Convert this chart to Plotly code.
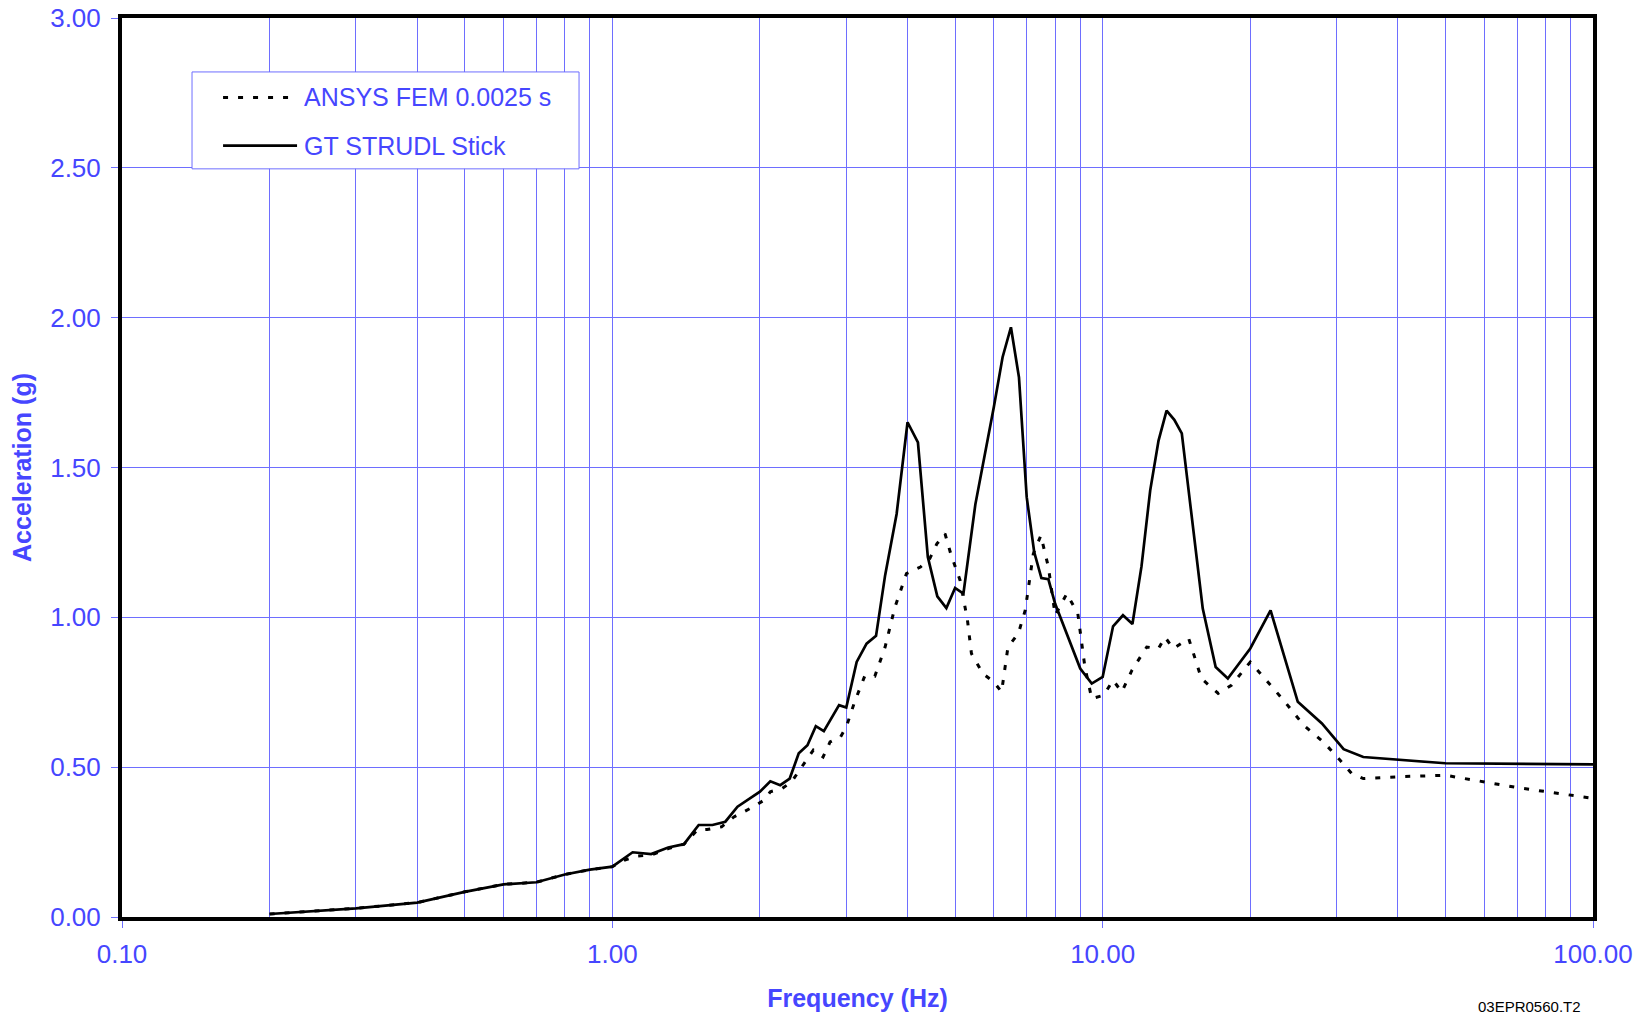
import plotly.graph_objects as go

# GT STRUDL Stick (solid)
strudl_freq = [0.2, 0.3, 0.4, 0.5, 0.6, 0.7, 0.8, 0.9, 1.0, 1.1, 1.2, 1.3, 1.4, 1.5, 1.6, 1.7, 1.8, 2.0,
               2.1, 2.2, 2.3, 2.4, 2.5, 2.6, 2.7, 2.9, 3.0, 3.15, 3.3, 3.45, 3.6, 3.8, 4.0, 4.2, 4.4,
               4.6, 4.8, 5.0, 5.2, 5.5, 6.0, 6.25, 6.5, 6.75, 7.0, 7.25, 7.5, 7.75, 8.0, 8.5, 9.0,
               9.5, 10.0, 10.5, 11.0, 11.5, 12.0, 12.5, 13.0, 13.5, 14.0, 14.5, 16.0, 17.0, 18.0,
               20.0, 22.0, 25.0, 28.0, 31.0, 34.0, 50.0, 100.0]
strudl_acc = [0.01, 0.029, 0.048, 0.084, 0.109, 0.116, 0.142, 0.158, 0.168, 0.216, 0.21, 0.232, 0.243,
              0.307, 0.307, 0.318, 0.368, 0.418, 0.453, 0.44, 0.462, 0.546, 0.573, 0.637, 0.62, 0.707,
              0.699, 0.851, 0.912, 0.938, 1.14, 1.345, 1.651, 1.584, 1.201, 1.07, 1.031, 1.098, 1.079,
              1.377, 1.703, 1.868, 1.968, 1.801, 1.401, 1.218, 1.131, 1.127, 1.045, 0.934, 0.829,
              0.779, 0.801, 0.97, 1.007, 0.978, 1.17, 1.423, 1.59, 1.69, 1.659, 1.614, 1.029, 0.834,
              0.796, 0.896, 1.023, 0.718, 0.646, 0.56, 0.534, 0.513, 0.509]

# ANSYS FEM 0.0025 s (dotted)
ansys_freq = [0.2, 0.3, 0.4, 0.5, 0.6, 0.7, 0.8, 0.9, 1.0, 1.06, 1.12, 1.2, 1.3, 1.4, 1.49, 1.56, 1.67,
              1.77, 1.94, 2.04, 2.1, 2.22, 2.32, 2.42, 2.57, 2.69, 2.78, 2.92, 3.0, 3.12, 3.27, 3.43,
              3.6, 3.77, 3.98, 4.25, 4.44, 4.59, 4.77, 4.9, 5.12, 5.3, 5.4, 5.7, 6.0, 6.22, 6.41,
              6.73, 6.95, 7.22, 7.48, 7.75, 8.0, 8.45, 8.9, 9.2, 9.5, 10.05, 10.5, 10.94, 11.47,
              12.3, 13.0, 13.4, 13.93, 14.98, 15.9, 17.2, 18.3, 20.0, 23.4, 25.7, 28.2, 30.5, 32.2,
              34.0, 40.0, 50.0, 70.0, 100.0]
ansys_acc = [0.01, 0.029, 0.048, 0.084, 0.109, 0.116, 0.142, 0.158, 0.168, 0.19, 0.203, 0.207, 0.228,
             0.243, 0.29, 0.292, 0.301, 0.334, 0.368, 0.39, 0.418, 0.429, 0.451, 0.496, 0.557, 0.534,
             0.584, 0.601, 0.634, 0.718, 0.803, 0.803, 0.901, 1.034, 1.146, 1.168, 1.196, 1.245,
             1.279, 1.212, 1.123, 0.99, 0.879, 0.812, 0.784, 0.751, 0.901, 0.946, 1.023, 1.212,
             1.273, 1.168, 1.007, 1.079, 1.012, 0.834, 0.729, 0.74, 0.79, 0.751, 0.823, 0.901,
             0.896, 0.934, 0.896, 0.929, 0.796, 0.746, 0.773, 0.851, 0.723, 0.64, 0.584, 0.523,
             0.479, 0.462, 0.468, 0.473, 0.432, 0.396]

series_names = ["ANSYS FEM 0.0025 s", "GT STRUDL Stick"]

x_tick_vals = [0.1, 1, 10, 100]
x_tick_text = ["0.10", "1.00", "10.00", "100.00"]
x_minor_vals = [m * d for d in (0.1, 1, 10) for m in range(2, 10)]
y_tick_vals = [0, 0.5, 1.0, 1.5, 2.0, 2.5, 3.0]
y_tick_text = ["0.00", "0.50", "1.00", "1.50", "2.00", "2.50", "3.00"]

BLUE_TXT = "#4646ff"
BLUE_GRID = "#6e6eff"
FONT = "Liberation Sans, Arial, sans-serif"
DOT = "5px,10px"

fig = go.Figure()
fig.add_trace(go.Scatter(x=ansys_freq, y=ansys_acc, mode="lines", name=series_names[0],
                         line=dict(color="black", width=3, dash=DOT)))
fig.add_trace(go.Scatter(x=strudl_freq, y=strudl_acc, mode="lines", name=series_names[1],
                         line=dict(color="black", width=2.7)))

fig.update_layout(
    width=1644, height=1014,
    margin=dict(l=122, r=51, t=18, b=97),
    paper_bgcolor="white", plot_bgcolor="white",
    font=dict(family=FONT, size=25, color=BLUE_TXT),
    showlegend=False,
    xaxis=dict(type="log", range=[-1, 2], tickvals=x_tick_vals, ticktext=x_tick_text,
               automargin=False,
               showgrid=True, gridcolor=BLUE_GRID, gridwidth=1,
               minor=dict(tickvals=x_minor_vals, showgrid=True, gridcolor=BLUE_GRID, gridwidth=1, ticks=""),
               ticks="outside", ticklen=7, tickcolor=BLUE_GRID, tickwidth=1,
               ticklabelstandoff=4,
               showline=True, linecolor="black", linewidth=4, mirror=True,
               tickfont=dict(size=26, color=BLUE_TXT),
               title=dict(text="<b>Frequency (Hz)</b>", font=dict(size=25, color=BLUE_TXT), standoff=22),
               zeroline=False),
    yaxis=dict(range=[0, 3], tickvals=y_tick_vals, ticktext=y_tick_text,
               automargin=False,
               showgrid=True, gridcolor=BLUE_GRID, gridwidth=1,
               ticks="outside", ticklen=7, tickcolor=BLUE_GRID, tickwidth=1,
               ticklabelstandoff=5,
               showline=True, linecolor="black", linewidth=4, mirror=True,
               tickfont=dict(size=26, color=BLUE_TXT),
               title=dict(text="<b>Acceleration (g)</b>", font=dict(size=25, color=BLUE_TXT), standoff=12),
               zeroline=False),
)

# Legend box drawn in paper coordinates
fig.add_shape(type="rect", xref="paper", yref="paper", x0=0.0476, x1=0.3107, y0=0.8322, y1=0.94,
              line=dict(color=BLUE_GRID, width=1), fillcolor="white", layer="above")
legend_rows = [0.9117, 0.8581]
legend_dash = [DOT, "solid"]
legend_width = [3, 2.7]
for name, yrow, dsh, lw in zip(series_names, legend_rows, legend_dash, legend_width):
    fig.add_shape(type="line", xref="paper", yref="paper", x0=0.0687, x1=0.119, y0=yrow, y1=yrow,
                  line=dict(color="black", width=lw, dash=dsh), layer="above")
    fig.add_annotation(text=name, xref="paper", yref="paper", x=0.1224, y=yrow,
                       xanchor="left", yanchor="middle", showarrow=False,
                       font=dict(size=25, color=BLUE_TXT, family=FONT))

fig.add_annotation(text="03EPR0560.T2", xref="paper", yref="paper", x=0.9935, y=-0.0875,
                   xanchor="right", yanchor="top", showarrow=False,
                   font=dict(size=15, color="black", family=FONT))

fig.write_html("out.html", config={"displayModeBar": False},
               post_script="document.body.style.margin='0px';document.body.style.overflow='hidden';")
